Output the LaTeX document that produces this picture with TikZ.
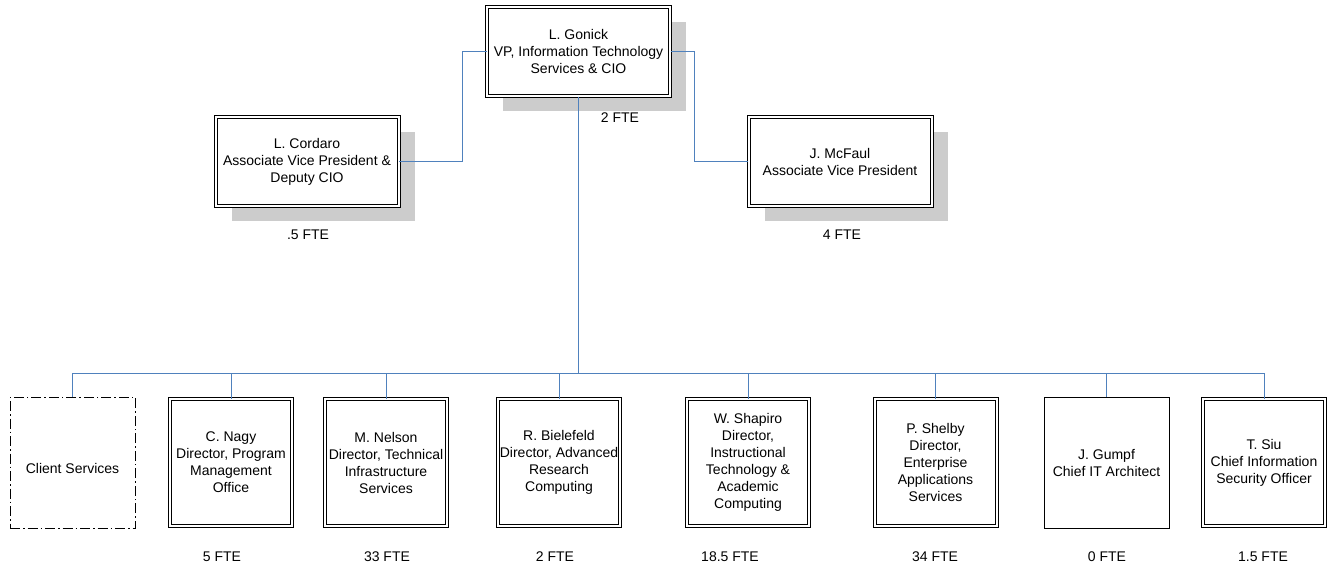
\documentclass[tikz,border=0pt]{standalone}
\usepackage{fontspec}
\setmainfont{Liberation Sans}
\usetikzlibrary{shadows}
\definecolor{linkblue}{RGB}{79,129,189}
\definecolor{shadowgray}{RGB}{204,204,204}

\begin{document}
\begin{tikzpicture}[
      x=1pt, y=-1pt,
      every node/.style={font=\fontsize{14}{17}\selectfont, align=center, inner sep=0pt},
      headbox/.style={draw, double, double distance=2pt, line width=1pt, fill=white,
        minimum width=183pt, minimum height=89pt,
        drop shadow={shadow xshift=16pt, shadow yshift=-15pt, fill=shadowgray, opacity=1}},
      unitbox/.style={draw, double, double distance=2pt, line width=1pt,
        minimum width=122pt, minimum height=127pt},
      plainbox/.style={draw, line width=1pt, minimum width=125pt, minimum height=131pt},
      openbox/.style={plainbox, dash pattern=on 10pt off 3pt on 1.5pt off 3pt},
      link/.style={draw=linkblue, line width=1pt}
    ]

    \useasboundingbox (0,0) rectangle (1333,571);

    % top level
    \node[headbox] (gonick) at (578.5,51.5) {L. Gonick\\VP, Information Technology\\Services \& CIO};
    \node[headbox] (cordaro) at (307,161.5) {L. Cordaro\\Associate Vice President \&\\Deputy CIO};
    \node[headbox] (mcfaul) at (840,161.5) {J. McFaul\\Associate Vice President};

    \node (gonickfte) at (620,118) {2 FTE};
    \node (cordarofte) at (308,235) {.5 FTE};
    \node (mcfaulfte) at (842,235) {4 FTE};

    % units
    \node[openbox, label={[yshift=-6pt]center:Client Services}] (client) at (72.5,462.5) {};
    \node[unitbox] (nagy) at (231,462.5) {C. Nagy\\Director, Program\\Management\\Office};
    \node[unitbox] (nelson) at (386,462.5) {M. Nelson\\Director, Technical\\Infrastructure\\Services};
    \node[unitbox] (bielefeld) at (559,462.5) {R. Bielefeld\\Director, Advanced\\Research\\Computing};
    \node[unitbox] (shapiro) at (748,462.5) {W. Shapiro\\Director,\\Instructional\\Technology \&\\Academic\\Computing};
    \node[unitbox] (shelby) at (935.5,462.5) {P. Shelby\\Director,\\Enterprise\\Applications\\Services};
    \node[plainbox] (gumpf) at (1106.5,462.5) {J. Gumpf\\Chief IT Architect};
    \node[unitbox] (siu) at (1264,462.5) {T. Siu\\Chief Information\\Security Officer};

    \node (nagyfte) at (222,557) {5 FTE};
    \node (nelsonfte) at (387,557) {33 FTE};
    \node (bielefeldfte) at (555,557) {2 FTE};
    \node (shapirofte) at (730,557) {18.5 FTE};
    \node (shelbyfte) at (935,557) {34 FTE};
    \node (gumpffte) at (1107,557) {0 FTE};
    \node (siufte) at (1263,557) {1.5 FTE};

    % connectors
    \coordinate (bus) at (578.5,373);
    \draw[link] (gonick.west) -- ++(-24,0) |- (cordaro.east);
    \draw[link] (gonick.east) -- ++(24,0) |- (mcfaul.west);
    \draw[link, line width=1.5pt] (gonick.south) -- (bus);
    \draw[link] (bus -| client.north) -- (bus -| siu.north);
    \foreach \unit in {client,nagy,nelson,bielefeld,shapiro,shelby,gumpf,siu}
      \draw[link] (bus -| \unit.north) -- (\unit.north);

\end{tikzpicture}
\end{document}
